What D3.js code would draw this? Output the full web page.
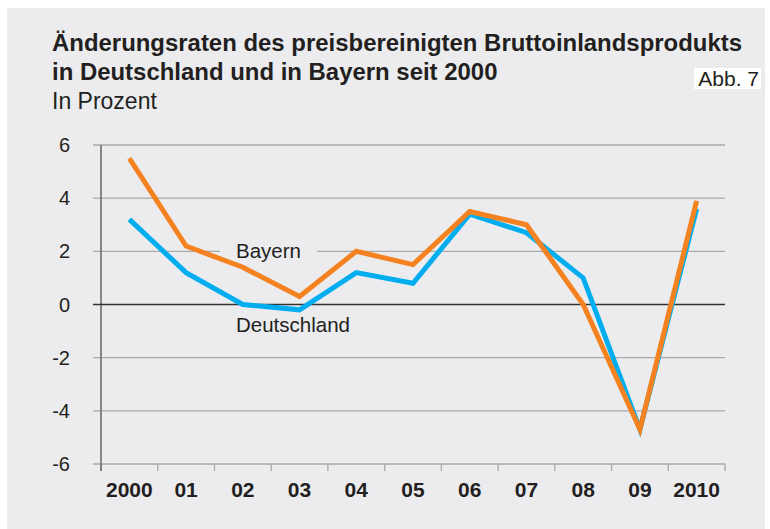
<!DOCTYPE html>
<html>
<head>
<meta charset="utf-8">
<script src="https://cdn.jsdelivr.net/npm/d3@7"></script>
<style>
  body { margin: 0; background: #ffffff; }
  svg { display: block; font-family: "Liberation Sans", Arial, Helvetica, sans-serif; }
</style>
</head>
<body>
<svg class="canvas" width="770" height="529"></svg>
<script>
// data
const years = ['2000', '01', '02', '03', '04', '05', '06', '07', '08', '09', '2010'];
const deutschland = [3.2, 1.2, 0.0, -0.2, 1.2, 0.8, 3.4, 2.7, 1.0, -4.7, 3.6];
const bayern = [5.5, 2.2, 1.4, 0.3, 2.0, 1.5, 3.5, 3.0, 0.0, -4.7, 3.9];
const yTicks = [-6, -4, -2, 0, 2, 4, 6];

const titleLines = ['Änderungsraten des preisbereinigten Bruttoinlandsprodukts',
                    'in Deutschland und in Bayern seit 2000'];

const bg = '#ececee';
const textColor = '#231f20';

var svg = d3.select('.canvas');

// panel background
svg.append('rect')
    .attr('x', 7)
    .attr('y', 8)
    .attr('width', 758)
    .attr('height', 521)
    .attr('fill', bg);

// title, squeezed to the condensed look of the original
var title = svg.append('g').attr('class', 'title');
var first = title.append('text')
    .attr('x', 52)
    .attr('y', 51)
    .attr('font-size', 23)
    .attr('font-weight', 'bold')
    .attr('fill', textColor)
    .text(titleLines[0]);
var squeeze = 690 / first.node().getComputedTextLength();
first.attr('textLength', 690).attr('lengthAdjust', 'spacingAndGlyphs');

var second = title.append('text')
    .attr('x', 52)
    .attr('y', 80)
    .attr('font-size', 23)
    .attr('font-weight', 'bold')
    .attr('fill', textColor)
    .text(titleLines[1]);
second.attr('textLength', second.node().getComputedTextLength() * squeeze)
    .attr('lengthAdjust', 'spacingAndGlyphs');

title.append('text')
    .attr('x', 52)
    .attr('y', 109)
    .attr('font-size', 23)
    .attr('fill', textColor)
    .text('In Prozent');

// figure number box
svg.append('rect')
    .attr('x', 694)
    .attr('y', 68)
    .attr('width', 67)
    .attr('height', 21)
    .attr('fill', '#ffffff');
svg.append('text')
    .attr('x', 759)
    .attr('y', 86)
    .attr('text-anchor', 'end')
    .attr('font-size', 21)
    .attr('fill', textColor)
    .text('Abb. 7');

// scales
var x = d3.scaleBand()
    .domain(years)
    .range([101, 725]);

var y = d3.scaleLinear()
    .domain([-6, 6])
    .range([464, 145]);

var cx = function(i){ return x(years[i]) + x.bandwidth() / 2; };

// grid lines with small ticks to the left of the axis
svg.append('g')
    .selectAll('line')
    .data(yTicks.filter(d => d !== 0))
    .join('line')
    .attr('x1', 93)
    .attr('x2', 725)
    .attr('y1', d => y(d))
    .attr('y2', d => y(d))
    .attr('stroke', '#a9a9a9')
    .attr('stroke-width', 1.3);

// y labels
svg.append('g')
    .selectAll('text')
    .data(yTicks)
    .join('text')
    .attr('x', 70)
    .attr('y', d => y(d))
    .attr('dy', '0.35em')
    .attr('text-anchor', 'end')
    .attr('font-size', 20)
    .attr('fill', textColor)
    .text(d => d);

// x ticks at band edges
var edges = years.map(d => x(d)).concat([x.range()[1]]);
svg.append('g')
    .selectAll('line')
    .data(edges)
    .join('line')
    .attr('x1', d => d)
    .attr('x2', d => d)
    .attr('y1', y(-6))
    .attr('y2', y(-6) + 7)
    .attr('stroke', '#a9a9a9')
    .attr('stroke-width', 1.3);

// x labels
svg.append('g')
    .selectAll('text')
    .data(years)
    .join('text')
    .attr('x', d => x(d) + x.bandwidth() / 2)
    .attr('y', 497)
    .attr('text-anchor', 'middle')
    .attr('font-size', 21)
    .attr('font-weight', 'bold')
    .attr('fill', textColor)
    .text(d => d);

// y axis line
svg.append('line')
    .attr('x1', 101)
    .attr('x2', 101)
    .attr('y1', y(6))
    .attr('y2', y(-6) + 7)
    .attr('stroke', '#6e6e6e')
    .attr('stroke-width', 1.6);

// zero line
svg.append('line')
    .attr('x1', 93)
    .attr('x2', 725)
    .attr('y1', y(0))
    .attr('y2', y(0))
    .attr('stroke', '#333333')
    .attr('stroke-width', 1.6);

// series labels (Bayern knocks out the grid line behind it)
var knockout = svg.append('rect').attr('fill', bg);
var bayernLabel = svg.append('text')
    .attr('x', 236)
    .attr('y', 258)
    .attr('font-size', 20.5)
    .attr('fill', textColor)
    .text('Bayern');
var bb = bayernLabel.node().getBBox();
knockout
    .attr('x', bb.x - 16)
    .attr('y', bb.y)
    .attr('width', bb.width + 32)
    .attr('height', bb.height);

svg.append('text')
    .attr('x', 236)
    .attr('y', 332)
    .attr('font-size', 20.5)
    .attr('fill', textColor)
    .text('Deutschland');

// lines
var line = d3.line()
    .x((d, i) => cx(i))
    .y(d => y(d));

svg.append('path')
    .datum(deutschland)
    .attr('d', line)
    .attr('fill', 'none')
    .attr('stroke', '#00aeef')
    .attr('stroke-width', 5)
    .attr('stroke-linejoin', 'miter')
    .attr('stroke-miterlimit', 10);

svg.append('path')
    .datum(bayern)
    .attr('d', line)
    .attr('fill', 'none')
    .attr('stroke', '#f58220')
    .attr('stroke-width', 5)
    .attr('stroke-linejoin', 'miter')
    .attr('stroke-miterlimit', 10);
</script>
</body>
</html>
